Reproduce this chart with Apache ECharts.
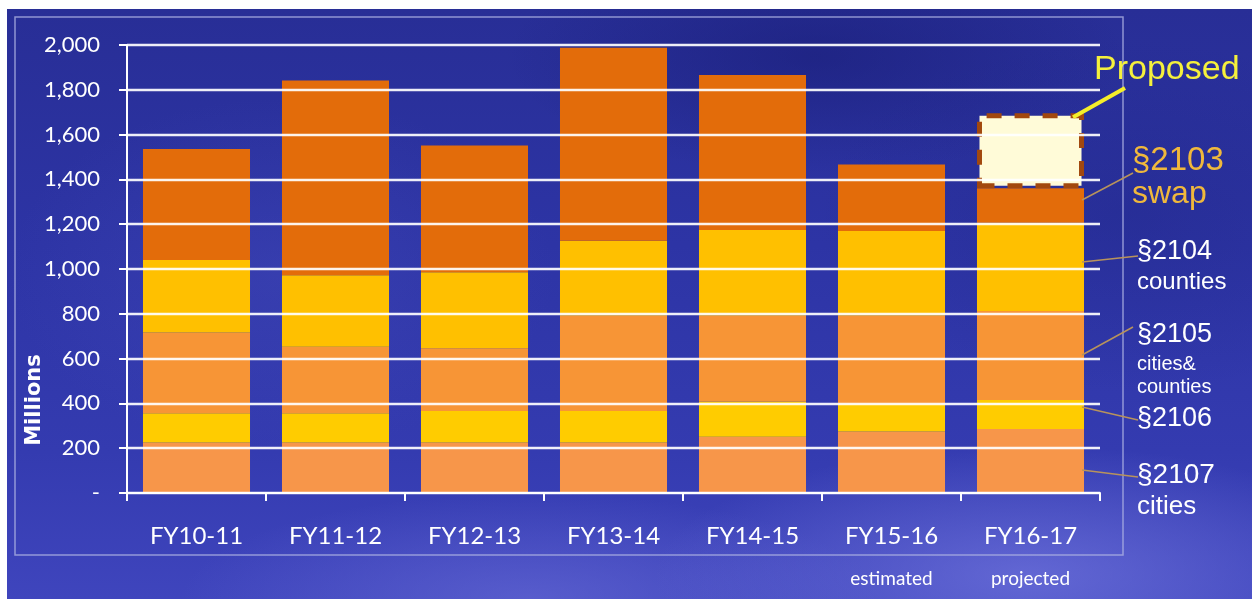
<!DOCTYPE html>
<html>
<head>
<meta charset="utf-8">
<title>Highway user tax allocations</title>
<script src="https://cdn.jsdelivr.net/npm/echarts@6/dist/echarts.min.js"></script>
<style>
  html, body { margin: 0; padding: 0; background: #ffffff; }
  #wrap { position: relative; width: 1252px; height: 599px; overflow: hidden; }
  #bg {
    position: absolute; left: 7px; top: 9px; right: 0; bottom: 0;
    background:
      radial-gradient(ellipse 30% 22% at 82% 96%, rgba(118,122,225,0.65), rgba(118,122,225,0) 100%),
      radial-gradient(ellipse 28% 18% at 42% 100%, rgba(104,108,215,0.6), rgba(104,108,215,0) 100%),
      radial-gradient(ellipse 22% 30% at 22% 45%, rgba(72,78,190,0.35), rgba(72,78,190,0) 100%),
      radial-gradient(ellipse 25% 20% at 65% 8%, rgba(20,24,110,0.45), rgba(20,24,110,0) 100%),
      radial-gradient(ellipse 25% 30% at 90% 35%, rgba(30,36,130,0.35), rgba(30,36,130,0) 100%),
      linear-gradient(180deg, #282e96 0%, #2d34a5 40%, #343bb0 75%, #3f45bd 100%);
  }
  #chart { position: absolute; left: 0; top: 0; width: 1252px; height: 599px; }
</style>
</head>
<body>
<div id="wrap">
  <div id="bg"></div>
  <div id="chart"></div>
</div>
<script>
// Fiscal years and sub-notes shown under two of them
const categories = ['FY10-11', 'FY11-12', 'FY12-13', 'FY13-14', 'FY14-15', 'FY15-16', 'FY16-17'];
const yearNotes = ['', '', '', '', '', 'estimated', 'projected'];

// Allocations by code section, in millions (stacked bottom to top)
const s2107 = [226, 226, 226, 226, 251, 274, 286];
const s2106 = [130, 130, 140, 140, 157, 126, 129];
const s2105 = [361, 297, 280, 426, 384, 392, 397];
const s2104 = [323, 319, 339, 334, 382, 378, 395];
const s2103 = [496, 869, 566, 862, 692, 297, 153];
const proposed = [null, null, null, null, null, null, 335];

// Value axis ticks
const yMin = 0, yMax = 2000, yStep = 200;

// Value on the last bar that each right-hand callout's leader line points at
const calloutAnchors = [1308, 1031, 616, 384, 103];

const chart = echarts.init(document.getElementById('chart'), null, { renderer: 'canvas' });

const AXIS_FONT = 'Lato, "Open Sans", sans-serif';
const NOTE_FONT = '"Liberation Sans", Arial, sans-serif';
const BAR_W = 0.77;

function seg(name, data, color, extra) {
  return Object.assign({
    name: name,
    type: 'bar',
    stack: 'total',
    data: data,
    barWidth: (BAR_W * 100) + '%',
    itemStyle: { color: color },
    silent: true
  }, extra || {});
}

const option = {
  backgroundColor: 'transparent',
  animation: false,
  grid: { left: 127, right: 152, top: 45, bottom: 106, containLabel: false },
  xAxis: [
    {
      type: 'category',
      data: categories,
      axisLine: { lineStyle: { color: '#ffffff', width: 2 } },
      axisTick: { show: true, length: 8, lineStyle: { color: '#ffffff', width: 2 } },
      axisLabel: { color: '#ffffff', fontFamily: AXIS_FONT, fontSize: 24, margin: 31 },
      z: 5
    },
    {
      type: 'category',
      data: yearNotes,
      position: 'bottom',
      axisLine: { show: false },
      axisTick: { show: false },
      axisLabel: { color: '#ffffff', fontFamily: AXIS_FONT, fontSize: 19, margin: 76 }
    }
  ],
  yAxis: {
    type: 'value',
    min: yMin,
    max: yMax,
    interval: yStep,
    axisLine: { show: true, lineStyle: { color: '#ffffff', width: 2 } },
    axisTick: { show: true, length: 8, lineStyle: { color: '#ffffff', width: 2 } },
    splitLine: { show: true, lineStyle: { color: 'rgba(255,255,255,0.92)', width: 2.4 } },
    axisLabel: {
      color: '#ffffff',
      fontFamily: AXIS_FONT,
      fontSize: 22,
      margin: 27,
      formatter: function (v) { return v === 0 ? '-' : v.toLocaleString('en-US'); }
    },
    z: 5
  },
  series: [
    seg('§2107', s2107, '#f7964a'),
    seg('§2106', s2106, '#ffcc00'),
    seg('§2105', s2105, '#f79536'),
    seg('§2104', s2104, '#ffc000'),
    seg('§2103', s2103, '#e36c0a'),
    seg('Proposed', proposed, '#fffbd8', {
      itemStyle: {
        color: '#fffbd8',
        borderColor: '#a2480e',
        borderWidth: 5,
        borderType: [15, 13]
      }
    })
  ]
};

chart.setOption(option);

// Callouts are placed after layout so leader lines start at the last bar's edge
function placeCallouts() {
  const last = categories.length - 1;
  const p0 = chart.convertToPixel({ xAxisIndex: 0, yAxisIndex: 0 }, [0, 0]);
  const p1 = chart.convertToPixel({ xAxisIndex: 0, yAxisIndex: 0 }, [1, 0]);
  const band = p1[0] - p0[0];
  const barRight = chart.convertToPixel({ xAxisIndex: 0, yAxisIndex: 0 }, [last, 0])[0] + band * BAR_W / 2;
  const yPx = v => chart.convertToPixel({ yAxisIndex: 0 }, v);

  const propTotal = s2107[last] + s2106[last] + s2105[last] + s2104[last] + s2103[last] + proposed[last];

  const leader = '#b8935c';
  const line = (x1, y1, x2, y2, color, w) => ({
    type: 'line', silent: true, z: 20,
    shape: { x1: x1, y1: y1, x2: x2, y2: y2 },
    style: { stroke: color, lineWidth: w }
  });
  const text = (str, x, y, size, color, weight) => ({
    type: 'text', silent: true, z: 20, x: x, y: y,
    style: {
      text: str, fill: color, fontSize: size, fontFamily: NOTE_FONT,
      fontWeight: weight || 'normal', textAlign: 'left', textVerticalAlign: 'top',
      align: 'left', verticalAlign: 'top'
    }
  });

  const ends = [[1133, 173], [1138, 256], [1133, 327], [1138, 420], [1138, 477]];

  const graphic = [
    {
      type: 'rect', silent: true, z: 1,
      shape: { x: 15, y: 17, width: 1108, height: 538 },
      style: { fill: 'none', stroke: 'rgba(170,175,225,0.8)', lineWidth: 1.5 }
    },
    {
      type: 'text', silent: true, z: 20, x: 35, y: 400, rotation: Math.PI / 2,
      style: {
        text: 'Millions', fill: '#ffffff', fontSize: 21, fontWeight: 'bold',
        fontFamily: '"DejaVu Sans", sans-serif',
        textAlign: 'center', textVerticalAlign: 'middle', align: 'center', verticalAlign: 'middle'
      }
    },
    line(barRight - 11, yPx(propTotal) + 4, 1125, 88, '#f5ee2a', 4),
    text('Proposed', 1094, 53, 34, '#f5f03c'),
    text('§2103', 1132, 144, 33, '#f0b83c'),
    text('swap', 1132, 178, 32, '#f0b83c'),
    text('§2104', 1137, 238, 27, '#ffffff'),
    text('counties', 1137, 270, 24, '#ffffff'),
    text('§2105', 1137, 321, 27, '#ffffff'),
    text('cities&', 1137, 354, 20, '#ffffff'),
    text('counties', 1137, 377, 20, '#ffffff'),
    text('§2106', 1137, 405, 27, '#ffffff'),
    text('§2107', 1137, 461, 28, '#ffffff'),
    text('cities', 1137, 494, 26, '#ffffff')
  ];
  calloutAnchors.forEach((v, i) => {
    graphic.push(line(barRight - 2, yPx(v), ends[i][0], ends[i][1], leader, 1.5));
  });
  chart.setOption({ graphic: graphic });
}

placeCallouts();
</script>
</body>
</html>
